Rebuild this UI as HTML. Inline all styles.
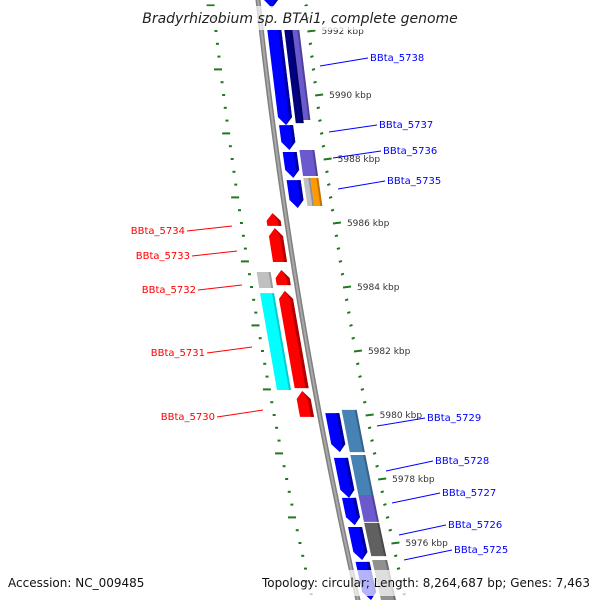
<!DOCTYPE html>
<html><head><meta charset="utf-8">
<style>
html,body{margin:0;padding:0;background:#fff;}
svg{display:block;font-family:"DejaVu Sans","Liberation Sans",sans-serif;}
</style></head>
<body>
<svg id="map" width="600" height="600" viewBox="0 0 600 600" xmlns="http://www.w3.org/2000/svg">
<g id="ticks"></g>
<path id="backbone" fill="none" stroke="#808080" stroke-width="5"/>
<path id="backbone2" fill="none" stroke="#a8a8a8" stroke-width="2"/>
<g id="genes"></g>
<g id="labels"></g>
<rect x="140" y="6" width="325" height="24" fill="#fff" opacity="0.7"/>
<text x="300" y="23" text-anchor="middle" font-size="14" font-style="italic" fill="#222">Bradyrhizobium sp. BTAi1, complete genome</text>
<rect x="0" y="570" width="600" height="26" fill="#fff" opacity="0.7"/>
<text x="8" y="587" font-size="12" fill="#111">Accession: NC_009485</text>
<text x="262" y="587" font-size="12" fill="#111" textLength="328" lengthAdjust="spacingAndGlyphs">Topology: circular; Length: 8,264,687 bp; Genes: 7,463</text>
</svg>
<script>
// ---- data (kbp positions) ----
var geneNames = ["BBta_5739","BBta_5738","BBta_5737","BBta_5736","BBta_5735","BBta_5729","BBta_5728","BBta_5727","BBta_5726","BBta_5725"];
var geneStart = [5993.28,5992.03,5989.06,5988.22,5987.34,5980.06,5978.66,5977.41,5976.50,5975.41];
var geneEnd   = [5992.72,5989.06,5988.28,5987.41,5986.47,5978.84,5977.41,5976.56,5975.47,5974.22];
var revNames = ["BBta_5734","BBta_5733","BBta_5732","BBta_5731","BBta_5730"];
var revStart = [5986.31,5985.84,5984.53,5983.88,5980.75];
var revEnd   = [5985.91,5984.78,5984.06,5980.84,5979.94];
var fwdCatStart = [5992.03,5992.03,5988.28,5987.41,5987.41,5980.16,5978.75,5977.50,5976.63,5975.47];
var fwdCatEnd   = [5989.22,5989.12,5987.47,5986.53,5986.53,5978.84,5977.50,5976.66,5975.59,5974.22];
var fwdCatColor = ["#6a5acd","#000080","#6a5acd","#c0c0c0","#ff9900","#4682b4","#4682b4","#6a5acd","#606060","#909090"];
var fwdCatSub   = [1,0,2,3,4,2,2,2,2,2]; // 0 inner half,1 outer half,2 full,3 gray-half,4 orange-half
var revCatStart = [5984.47,5983.81];
var revCatEnd   = [5983.97,5980.78];
var revCatColor = ["#c0c0c0","#00ffff"];
var tickLabels = ["5992 kbp","5990 kbp","5988 kbp","5986 kbp","5984 kbp","5982 kbp","5980 kbp","5978 kbp","5976 kbp"];
var tickLabelKbp = [5992,5990,5988,5986,5984,5982,5980,5978,5976];

// ---- scales ----
function yOf(k){ return 31 + (5992 - k) * 32; }
function bx(y){ return 258 + 0.108*y + 9.77e-5*y*y; }
var NS="http://www.w3.org/2000/svg";
function mk(tag, attrs, parent){ var e=document.createElementNS(NS,tag); for(var a in attrs) e.setAttribute(a,attrs[a]); parent.appendChild(e); return e; }

// backbone
var d=""; for(var y=-5;y<=605;y+=5){ d+=(y==-5?"M":"L")+bx(y).toFixed(2)+","+y; }
document.getElementById("backbone").setAttribute("d",d);
document.getElementById("backbone2").setAttribute("d",d);

function pt(o,y){ return (bx(y)+o).toFixed(2)+","+y.toFixed(2); }
function band(o1,o2,y1,y2){ return [pt(o1,y1),pt(o2,y1),pt(o2,y2),pt(o1,y2)].join(" "); }
function shade(c){ return c; }

var G=document.getElementById("genes");
// forward genes (down-pointing arrows)
for(var i=0;i<geneNames.length;i++){
  var y1=yOf(geneStart[i]), y2=yOf(geneEnd[i]);
  var h=Math.min(8,(y2-y1)*0.6), o1=6,o2=20, m=(o1+o2)/2;
  var pts=[pt(o1,y1),pt(o2,y1),pt(o2,y2-h),pt(m,y2),pt(o1,y2-h)].join(" ");
  var p=mk("polygon",{points:pts,fill:"#0000ff"},G);
  
  
  var s=mk("polygon",{points:[pt(o2-3,y1),pt(o2,y1),pt(o2,y2-h),pt(m,y2),pt(m+1,y2-2),pt(o2-3,y2-h)].join(" "),fill:"#0000a0"},G);
  
  
}
// reverse genes (up-pointing arrows)
for(var i=0;i<revNames.length;i++){
  var y1=yOf(revStart[i]), y2=yOf(revEnd[i]);
  var h=Math.min(8,(y2-y1)*0.6), o1=-20,o2=-6, m=(o1+o2)/2;
  var pts=[pt(m,y1),pt(o2,y1+h),pt(o2,y2),pt(o1,y2),pt(o1,y1+h)].join(" ");
  var p=mk("polygon",{points:pts,fill:"#ff0000"},G);
  
  
  var s=mk("polygon",{points:[pt(m,y1),pt(o2,y1+h),pt(o2,y2),pt(o2-3,y2),pt(o2-3,y1+h)].join(" "),fill:"#b00000"},G);
  
  
}
// forward category track
for(var i=0;i<fwdCatStart.length;i++){
  var y1=yOf(fwdCatStart[i]), y2=yOf(fwdCatEnd[i]);
  var o1=23,o2=38, sub=fwdCatSub[i];
  if(sub==0){o1=23;o2=31;} if(sub==1){o1=30;o2=38;} if(sub==3){o1=23;o2=30;} if(sub==4){o1=30;o2=38;}
  var p=mk("polygon",{points:band(o1,o2,y1,y2),fill:fwdCatColor[i]},G);
  
  
  var s=mk("polygon",{points:band(o2-2,o2,y1,y2),fill:"#000",opacity:"0.25"},G);
  
  
}
// reverse category track
for(var i=0;i<revCatStart.length;i++){
  var y1=yOf(revCatStart[i]), y2=yOf(revCatEnd[i]);
  var p=mk("polygon",{points:band(-38,-24,y1,y2),fill:revCatColor[i]},G);
  
  
  var s=mk("polygon",{points:band(-26,-24,y1,y2),fill:"#000",opacity:"0.2"},G);
  
  
}

// ticks
var T=document.getElementById("ticks");
for(var n=0;n<60;n++){
  var k=5993.2-0.4*n, y=yOf(k);
  if(y<-5||y>605) continue;
  var major=Math.abs(Math.round(k/2)*2-k)<0.01;
  var len=major?8:3;
  var t=mk("line",{x1:bx(y)+46,y1:y+0.5,x2:bx(y)+46+len,y2:y-0.5,stroke:"#1f7a1f","stroke-width":"2"},T);
  
  
}
for(var n=0;n<60;n++){
  var k=5993.2-0.4*n, y=yOf(k);
  if(y<-5||y>605) continue;
  var major=(n%5==1);
  var len=major?8:3;
  var t=mk("line",{x1:bx(y)-44,y1:y,x2:bx(y)-44-len,y2:y,stroke:"#1f7a1f","stroke-width":"2"},T);
  
  
}
for(var i=0;i<tickLabels.length;i++){
  var y=yOf(tickLabelKbp[i]);
  var t=mk("text",{x:bx(y)+60,y:y+3,"font-size":"9",fill:"#333"},T);
  t.textContent=tickLabels[i];
  
  
}

// labels
var L=document.getElementById("labels");
var blueLab=[["BBta_5738",320,66,370,58],["BBta_5737",329,132,379,125],["BBta_5736",333,158,383,151],["BBta_5735",338,189,387,181],["BBta_5729",377,426,427,418],["BBta_5728",386,471,435,461],["BBta_5727",392,503,442,493],["BBta_5726",399,535,448,525],["BBta_5725",404,560,454,550]];
blueLab.forEach(function(b){
  var l=mk("line",{x1:b[1],y1:b[2],x2:b[3]-2,y2:b[4],stroke:"#0000ff","stroke-width":"1"},L);
  
  
  var t=mk("text",{x:b[3],y:b[4]+3,"font-size":"10",fill:"#0000ff"},L);
  t.textContent=b[0];
  
  
});
var redLab=[["BBta_5734",185,231,232,226],["BBta_5733",190,256,237,251],["BBta_5732",196,290,242,285],["BBta_5731",205,353,252,347],["BBta_5730",215,417,263,410]];
redLab.forEach(function(b){
  var l=mk("line",{x1:b[1]+2,y1:b[2],x2:b[3],y2:b[4],stroke:"#ff0000","stroke-width":"1"},L);
  
  
  var t=mk("text",{x:b[1],y:b[2]+3,"font-size":"10",fill:"#ff0000","text-anchor":"end"},L);
  t.textContent=b[0];
  
  
});
</script>
</body></html>
